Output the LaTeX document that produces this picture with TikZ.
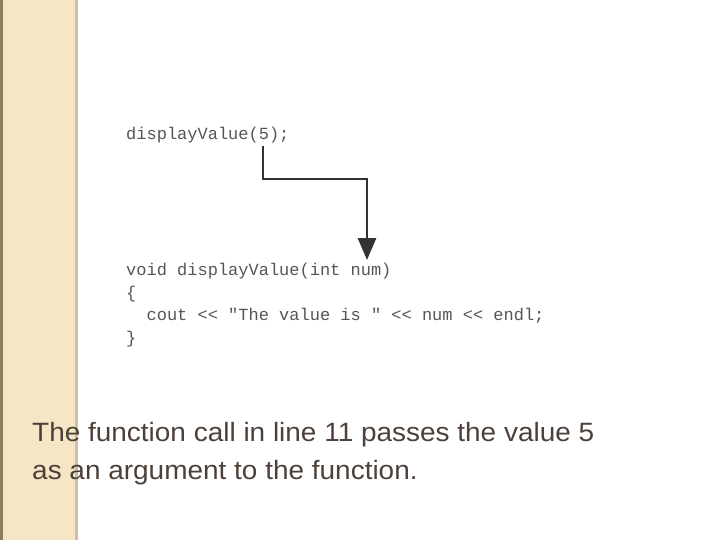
\documentclass[tikz,border=0pt]{standalone}
\usepackage{fontspec}
\setmainfont{Liberation Sans}
\setmonofont{Liberation Mono}
\usepackage{xcolor}
\usetikzlibrary{arrows.meta,positioning,calc}
\definecolor{stripbeige}{RGB}{245,231,197}
\definecolor{stripedge}{RGB}{140,126,92}
\definecolor{stripside}{RGB}{205,194,168}
\definecolor{codegray}{RGB}{85,85,85}
\definecolor{arrowgray}{RGB}{51,51,51}
\definecolor{captionbrown}{RGB}{77,64,56}
\begin{document}
\begin{tikzpicture}[
  x=1pt, y=-1pt,
  code/.style={anchor=base west, inner sep=0pt, text=codegray, font=\ttfamily\fontsize{17}{22}\selectfont},
  caption/.style={anchor=base west, inner sep=0pt, xscale=1.055, text=captionbrown, font=\fontsize{26.5}{32}\selectfont},
  flow/.style={draw=arrowgray, line width=2.9pt, -{Triangle[length=22pt,width=18pt]}}
]
\useasboundingbox (0,0) rectangle (720,540);
% side strip
\fill[stripbeige] (0,0) rectangle (78,540);
\fill[stripedge] (0,0) rectangle (3,540);
\fill[stripside] (75,0) rectangle (78,540);

% call
\node[code] (call) at (126,140) {displayValue(5);};
\coordinate (argfive) at (263,146);

% definition
\node[code] (head)  at (126,275) {void displayValue(int num)};
\node[code] (open)  at (126,298) {\{};
\node[code] (body)  at (126,320) {\ \ cout << "The value is " << num << endl;};
\node[code] (close) at (126,343) {\}};
\coordinate (parnum) at (367,260);

\draw[flow] (argfive) -- ++(0,33) -| (parnum);

% caption
\node[caption] (capa) at (32,441) {The function call in line 11 passes the value 5};
\node[caption] (capb) at (32,479) {as an argument to the function.};
\end{tikzpicture}
\end{document}
